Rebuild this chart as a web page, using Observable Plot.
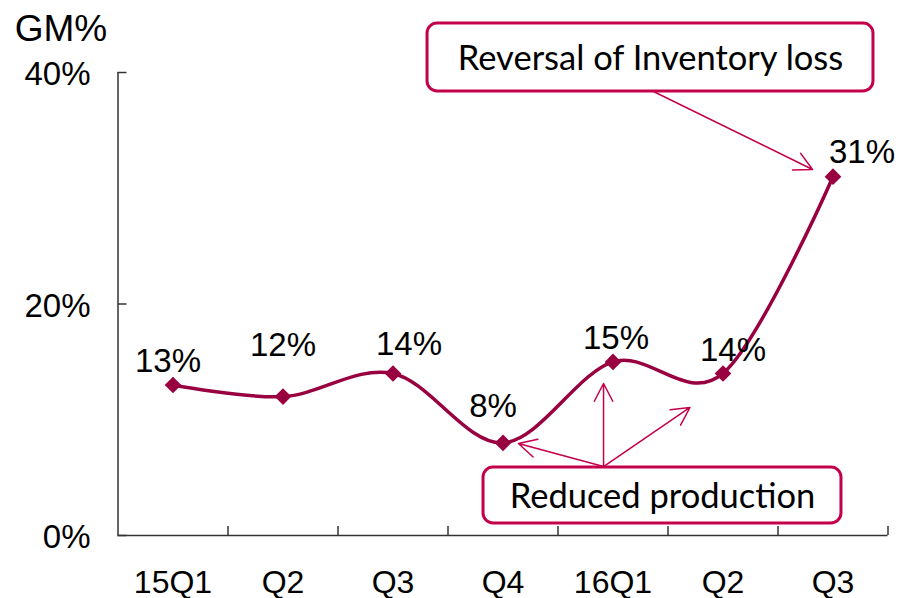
<!DOCTYPE html>
<html>
<head>
<meta charset="utf-8">
<script src="https://cdn.jsdelivr.net/npm/d3@7"></script>
<script src="https://cdn.jsdelivr.net/npm/@observablehq/plot@0.6"></script>
<style>
  html, body { margin: 0; padding: 0; background: #fff; }
  #chart svg { display: block; }
</style>
</head>
<body>
<div id="chart"></div>
<script>
// ---- data ----
const categories = ["15Q1", "Q2", "Q3", "Q4", "16Q1", "Q2", "Q3"];
const gmValues = [13, 12, 14, 8, 15, 14, 31];
const yTicks = [0, 20, 40];
const yLabel = "GM%";

// label placement (pixels) relative to each point
const labelDx = [-5, 0, 16, -10, 3, 10, 29];
const labelDy = [-13, -41, -18, -26, -13, -12, -14];

// annotations (data units: x = category index, y = percent)
const boxLabels = ["Reversal of Inventory loss", "Reduced production"];
const boxX1 = [2.314, 2.823];
const boxX2 = [6.368, 6.077];
const boxY1 = [38.36, 1.04];
const boxY2 = [44.23, 5.87];

const arrowX1 = [4.368, 3.914, 3.914, 3.914];
const arrowY1 = [38.36, 5.96, 5.96, 5.96];
const arrowX2 = [5.814, 3.14, 3.914, 4.70];
const arrowY2 = [31.62, 7.95, 13.13, 11.06];

// ---- tables ----
const points = gmValues.map((v, i) => ({i, v, cat: categories[i]}));
const boxes = boxLabels.map((label, k) => ({label, x1: boxX1[k], x2: boxX2[k], y1: boxY1[k], y2: boxY2[k]}));
const arrows = arrowX1.map((x1, k) => ({x1, y1: arrowY1[k], x2: arrowX2[k], y2: arrowY2[k]}));
const xTickPos = d3.range(categories.length).map(i => i + 0.5);

const lineColor = "#990040";
const annoColor = "#c4004b";
const axisColor = "#333";
const sans = "'Liberation Sans', Arial, sans-serif";
const annoFont = "Lato, 'Open Sans', sans-serif";

const xPx = 110, yPx = 463 / 40;

const chart = Plot.plot({
  width: 899,
  height: 598,
  marginLeft: 117.5,
  marginRight: 11.5,
  marginTop: 72,
  marginBottom: 63,
  x: {domain: [-0.5, categories.length - 0.5], axis: null},
  y: {domain: [0, 40], axis: null},
  style: {fontFamily: sans, background: "#fff", overflow: "visible"},
  marks: [
    // axes
    Plot.ruleX([-0.5], {y1: 0, y2: 40, stroke: axisColor, strokeWidth: 1.5}),
    Plot.ruleY([0], {x1: -0.5, x2: categories.length - 0.5, stroke: axisColor, strokeWidth: 1.5}),
    Plot.ruleY(yTicks, {x1: -0.5, x2: -0.5 + 9 / xPx, stroke: axisColor, strokeWidth: 1.5}),
    Plot.ruleX(xTickPos, {y1: 0, y2: 9 / yPx, stroke: axisColor, strokeWidth: 1.5}),
    Plot.text(yTicks, {x: -0.5, y: d => d, text: d => d + "%", textAnchor: "end", dx: -27.5, dy: 2, fontSize: 33, fontFamily: sans, fill: "#000"}),
    Plot.text(points, {x: "i", y: 0, text: "cat", dy: 47, fontSize: 32, fontFamily: sans, fill: "#000"}),
    Plot.text([yLabel], {frameAnchor: "top-left", text: d => d, textAnchor: "middle", lineAnchor: "bottom", dx: -57, dy: -32, fontSize: 37, fontFamily: sans, fill: "#000"}),
    // annotation arrows and boxes
    Plot.arrow(arrows, {x1: "x1", y1: "y1", x2: "x2", y2: "y2", stroke: annoColor, strokeWidth: 1.5, headLength: 20, headAngle: 55, inset: 0}),
    Plot.rect(boxes, {x1: "x1", x2: "x2", y1: "y1", y2: "y2", fill: "#fff", stroke: annoColor, strokeWidth: 3, rx: 10}),
    Plot.text(boxes, {x: d => (d.x1 + d.x2) / 2, y: d => (d.y1 + d.y2) / 2, text: "label", fontFamily: annoFont, fontSize: 34.5, fill: "#000", dy: 1}),
    // series
    Plot.line(points, {x: "i", y: "v", curve: "cardinal", stroke: lineColor, strokeWidth: 3.5}),
    Plot.dot(points, {x: "i", y: "v", symbol: "diamond2", r: 7.5, fill: lineColor, stroke: "none"}),
    ...points.map((p, k) => Plot.text([p], {x: "i", y: "v", text: d => d.v + "%", lineAnchor: "bottom", dx: labelDx[k], dy: labelDy[k], fontSize: 33, fontFamily: sans, fill: "#000"}))
  ]
});

document.getElementById("chart").appendChild(chart);
</script>
</body>
</html>
